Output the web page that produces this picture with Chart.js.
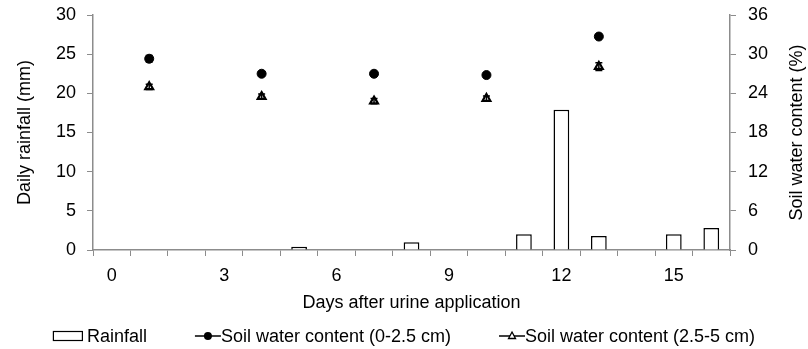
<!DOCTYPE html>
<html>
<head>
<meta charset="utf-8">
<script src="https://cdn.jsdelivr.net/npm/chart.js@4.4.1/dist/chart.umd.min.js"></script>
<style>
  html, body { margin: 0; padding: 0; background: #fff; }
  #wrap { width: 808px; height: 349px; }
</style>
</head>
<body>
<div id="wrap"><canvas id="rainChart"></canvas></div>
<script>
  // days after urine application, one category per day
  const days = ['0', '1', '2', '3', '4', '5', '6', '7', '8', '9', '10', '11', '12', '13', '14', '15', '16'];
  const dayTicks = ['0', '3', '6', '9', '12', '15'];

  // daily rainfall (mm)
  const rainfall = [null, null, null, null, null, 0.4, null, null, 1.0, null, null, 2.0, 17.9, 1.8, null, 2.0, 2.8];

  // soil water content (%) and its error, 0-2.5 cm
  const swcTop = [null, 29.3, null, null, 27.0, null, null, 27.0, null, null, 26.8, null, null, 32.7, null, null, null];
  const swcTopErr = [null, 0.5, null, null, 0.3, null, null, 0.2, null, null, 0.2, null, null, 0.2, null, null, null];

  // soil water content (%) and its error, 2.5-5 cm
  const swcDeep = [null, 25.0, null, null, 23.5, null, null, 22.8, null, null, 23.2, null, null, 28.1, null, null, null];
  const swcDeepErr = [null, 0.4, null, null, 0.4, null, null, 0.4, null, null, 0.4, null, null, 0.6, null, null, null];

  const rainMax = 30, rainStep = 5;
  const swcMax = 36, swcStep = 6;

  const FONT = '"Liberation Sans", Arial, Helvetica, sans-serif';
  const AXIS = '#8c8c8c';

  // vertical error bars with caps
  const errorBars = {
    id: 'errorBars',
    afterDatasetDraw(chart, args) {
      const ds = chart.data.datasets[args.index];
      if (!ds.errors) return;
      const scale = chart.scales[ds.yAxisID];
      const ctx = chart.ctx;
      ctx.save();
      ctx.strokeStyle = '#000';
      ctx.lineWidth = 1.5;
      args.meta.data.forEach((pt, i) => {
        const v = ds.data[i], e = ds.errors[i];
        if (v == null || !e) return;
        const top = scale.getPixelForValue(v + e);
        const bot = scale.getPixelForValue(v - e);
        ctx.beginPath();
        ctx.moveTo(pt.x, top); ctx.lineTo(pt.x, bot);
        ctx.moveTo(pt.x - 3.5, top); ctx.lineTo(pt.x + 3.5, top);
        ctx.moveTo(pt.x - 3.5, bot); ctx.lineTo(pt.x + 3.5, bot);
        ctx.stroke();
      });
      ctx.restore();
    }
  };

  // right-hand title reads bottom to top like the left one
  const rightTitle = {
    id: 'rightTitle',
    afterDraw(chart) {
      const s = chart.scales.y1;
      const ctx = chart.ctx;
      ctx.save();
      ctx.font = '18px ' + FONT;
      ctx.fillStyle = '#000';
      ctx.textAlign = 'center';
      ctx.textBaseline = 'middle';
      ctx.translate(s.right - 11, (s.top + s.bottom) / 2);
      ctx.rotate(-Math.PI / 2);
      ctx.fillText('Soil water content (%)', 0, 0);
      ctx.restore();
    }
  };

  // legend row under the axis title: symbol, then label, wide gaps between entries
  function drawSymbol(ctx, kind, x, y) {
    ctx.save();
    ctx.strokeStyle = '#000';
    ctx.fillStyle = '#000';
    if (kind === 'box') {
      ctx.lineWidth = 1.2;
      ctx.strokeRect(x + 0.5, y - 4.5, 29, 9);
    } else {
      ctx.lineWidth = 1.5;
      ctx.beginPath(); ctx.moveTo(x, y); ctx.lineTo(x + 26, y); ctx.stroke();
      if (kind === 'circle') {
        ctx.beginPath(); ctx.arc(x + 13, y, 4, 0, Math.PI * 2); ctx.fill();
      } else {
        ctx.fillStyle = '#fff';
        ctx.lineWidth = 1.3;
        ctx.beginPath(); ctx.moveTo(x + 13, y - 4); ctx.lineTo(x + 16.5, y + 2.5); ctx.lineTo(x + 9.5, y + 2.5); ctx.closePath();
        ctx.fill(); ctx.stroke();
      }
    }
    ctx.restore();
  }

  const bottomLegend = {
    id: 'bottomLegend',
    afterDraw(chart) {
      const ctx = chart.ctx;
      const kinds = ['box', 'circle', 'triangle'];
      const symW = [30, 26, 26];
      const gapAfterSym = [4, 0, 0];
      const gap = 48;
      ctx.save();
      ctx.font = '18px ' + FONT;
      const labels = chart.data.datasets.map(d => d.label);
      const widths = labels.map((t, i) => symW[i] + gapAfterSym[i] + ctx.measureText(t).width);
      const total = widths.reduce((a, b) => a + b, 0) + gap * (labels.length - 1);
      let x = (chart.width - total) / 2;
      const y = chart.height - 13;
      ctx.fillStyle = '#000';
      ctx.textBaseline = 'middle';
      ctx.textAlign = 'left';
      labels.forEach((t, i) => {
        drawSymbol(ctx, kinds[i], x, y);
        ctx.fillText(t, x + symW[i] + gapAfterSym[i], y + 1);
        x += widths[i] + gap;
      });
      ctx.restore();
    }
  };

  // keep the plot edges fixed: no extra room for half-height tick labels
  function noOverflow(scale) {
    scale.paddingTop = 0;
    scale.paddingBottom = 0;
    scale.paddingLeft = 0;
    scale.paddingRight = 0;
  }

  new Chart(document.getElementById('rainChart'), {
    data: {
      labels: days,
      datasets: [
        {
          type: 'bar',
          label: 'Rainfall',
          data: rainfall,
          yAxisID: 'y',
          backgroundColor: '#fff',
          borderColor: '#000',
          borderWidth: 1.5,
          barPercentage: 0.42,
          categoryPercentage: 1
        },
        {
          type: 'line',
          label: 'Soil water content (0-2.5 cm)',
          data: swcTop,
          errors: swcTopErr,
          yAxisID: 'y1',
          showLine: false,
          pointStyle: 'circle',
          pointRadius: 4.5,
          pointBackgroundColor: '#000',
          pointBorderColor: '#000',
          pointBorderWidth: 1
        },
        {
          type: 'line',
          label: 'Soil water content (2.5-5 cm)',
          data: swcDeep,
          errors: swcDeepErr,
          yAxisID: 'y1',
          showLine: false,
          pointStyle: 'triangle',
          pointRadius: 4.5,
          pointBackgroundColor: '#fff',
          pointBorderColor: '#000',
          pointBorderWidth: 2.2
        }
      ]
    },
    options: {
      responsive: true,
      maintainAspectRatio: false,
      animation: false,
      devicePixelRatio: 1,
      layout: { padding: { top: 15, left: 0, right: 0, bottom: 31 } },
      font: { family: FONT, size: 18 },
      plugins: {
        tooltip: { enabled: false },
        legend: { display: false }
      },
      scales: {
        x: {
          type: 'category',
          offset: true,
          grid: { offset: true, drawOnChartArea: false, drawTicks: true, tickLength: 6, color: AXIS },
          border: { color: AXIS, width: 1.5 },
          ticks: {
            autoSkip: false,
            maxRotation: 0,
            padding: 9,
            color: '#000',
            font: { family: FONT, size: 18 },
            callback: (v, i) => dayTicks.includes(days[i]) ? days[i] : ''
          },
          title: {
            display: true,
            text: 'Days after urine application',
            color: '#000',
            font: { family: FONT, size: 18 },
            padding: { top: 2, bottom: 4 }
          },
          afterFit(scale) { noOverflow(scale); scale.height = 68; }
        },
        y: {
          position: 'left',
          min: 0,
          max: rainMax,
          grid: { drawOnChartArea: false, tickLength: 6, color: AXIS },
          border: { color: AXIS, width: 1.5 },
          ticks: { stepSize: rainStep, padding: 11, color: '#000', font: { family: FONT, size: 18 } },
          title: {
            display: true,
            text: 'Daily rainfall (mm)',
            color: '#000',
            font: { family: FONT, size: 18 },
            padding: { top: 14, bottom: 0 }
          },
          afterFit(scale) { noOverflow(scale); scale.width = 93; }
        },
        y1: {
          position: 'right',
          min: 0,
          max: swcMax,
          grid: { drawOnChartArea: false, tickLength: 6, color: AXIS },
          border: { color: AXIS, width: 1.5 },
          ticks: { stepSize: swcStep, padding: 12, color: '#000', font: { family: FONT, size: 18 } },
          afterFit(scale) { noOverflow(scale); scale.width = 78; }
        }
      }
    },
    plugins: [errorBars, rightTitle, bottomLegend]
  });
</script>
</body>
</html>
